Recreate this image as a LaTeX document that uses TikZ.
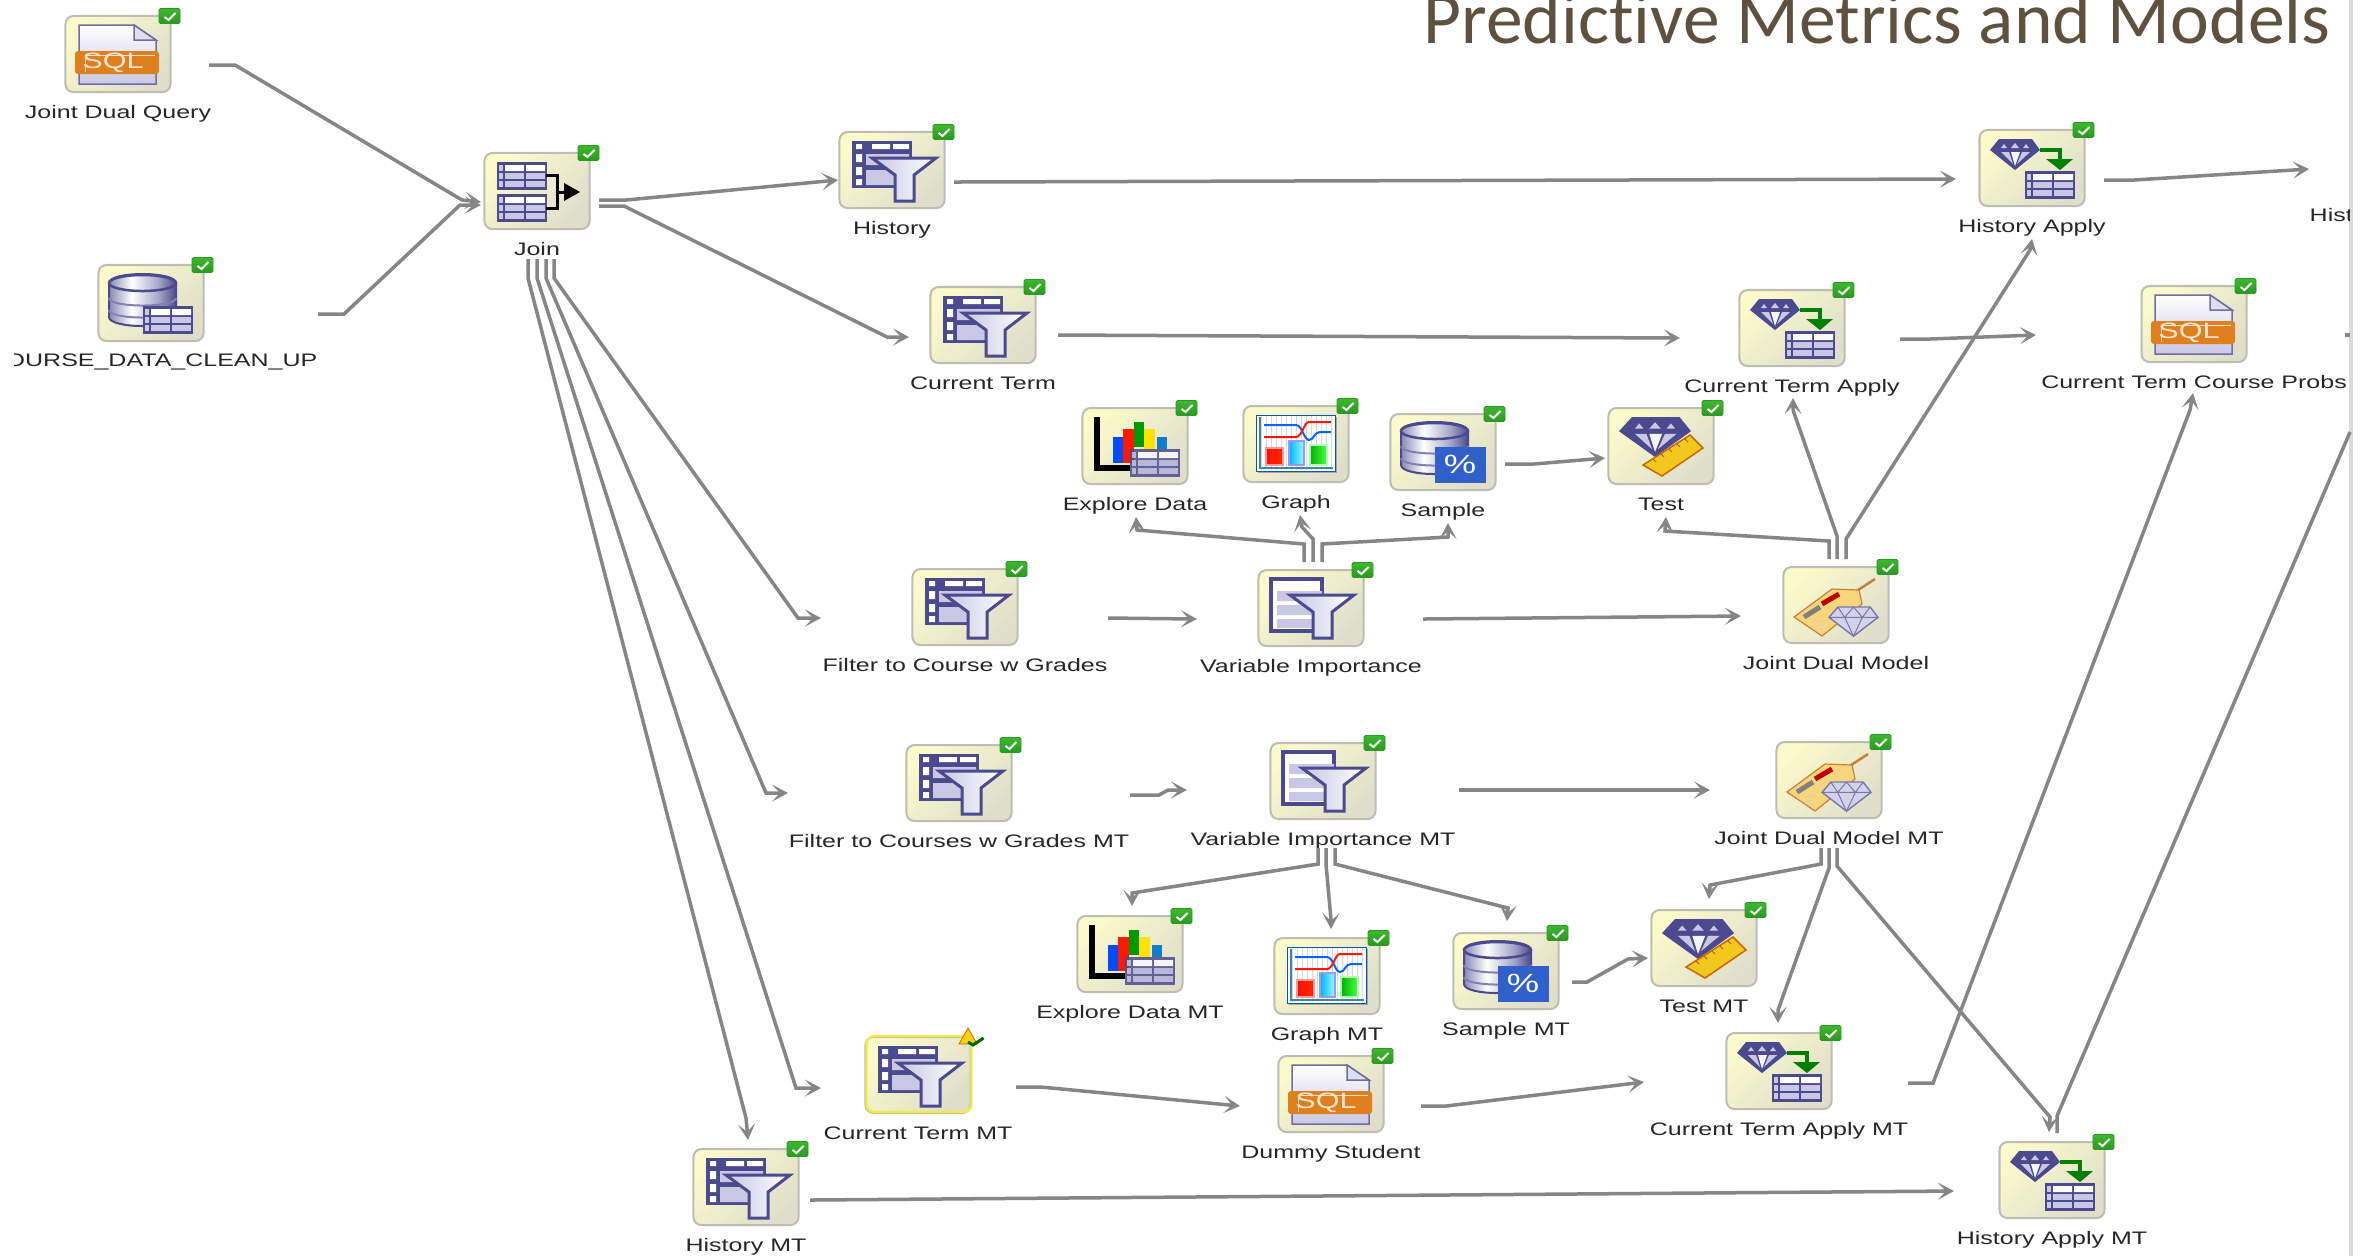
\documentclass[tikz,border=0pt]{standalone}
\usepackage{fontspec}
\usetikzlibrary{arrows.meta, positioning}
\newfontfamily\tasklabelfont[FakeStretch=1.38]{Liberation Sans}
\newfontfamily\titlefont[Ligatures=NoCommon]{Carlito}
\definecolor{linkgray}{HTML}{868686}
\definecolor{gemdark}{HTML}{4B4A8E}
\definecolor{gemcell}{HTML}{C9C7E4}
\definecolor{tilelight}{HTML}{FBFACB}
\definecolor{tiledark}{HTML}{DFDECB}
\definecolor{tileedge}{HTML}{BDBDB3}
\definecolor{titlebrown}{HTML}{5E5140}
\definecolor{sqlorange}{HTML}{E07F1E}
\definecolor{pctblue}{HTML}{2F60CC}
\definecolor{okgreen}{HTML}{3DB82E}
\definecolor{okgreendark}{HTML}{2A9A20}
\definecolor{warnedge}{HTML}{F0EE40}
\definecolor{tagyellow}{HTML}{F5D67C}
\definecolor{ruleryellow}{HTML}{F2C81E}
\pgfdeclarehorizontalshading{cylshade}{100bp}{color(0bp)=(gemdark!65); color(25bp)=(gemdark!65); color(42bp)=(white); color(62bp)=(gemdark!50); color(75bp)=(gemdark); color(100bp)=(gemdark)}
\tikzset{
    % grid table, 50 x 28 px before scaling
    datatable/.pic={
        \fill[gemdark] (0,0) rectangle (50,28);
        \foreach \rowy in {3,11,19} {
            \fill[gemcell] (2,\rowy) rectangle (6,\rowy+6);
            \fill[gemcell] (8,\rowy) rectangle (27,\rowy+6);
            \fill[gemcell] (29,\rowy) rectangle (48,\rowy+6);
        }
        \fill[white] (8,3) rectangle (27,9) (29,3) rectangle (48,9);
    },
    % cut gem, 50 x 31 px before scaling
    gemstone/.pic={
        \fill[gemdark] (0,11) -- (9,0) -- (42,0) -- (50,11) -- (25,31) -- cycle;
        \fill[gemcell] (14,5) -- (17,9) -- (11,9) -- cycle (25,4) -- (29,9) -- (21,9) -- cycle (36,5) -- (39,9) -- (33,9) -- cycle;
        \fill[gemcell] (11,13) -- (19,13) -- (23,25) -- cycle (32,13) -- (40,13) -- (27,25) -- cycle;
        \fill[white!80!gemcell] (21,13) -- (30,13) -- (25,27) -- cycle;
    },
    paleGem/.pic={
        \draw[draw=gemdark!75, fill=gemcell!80!white, line width=0.014cm] (0,11) -- (9,0) -- (42,0) -- (50,11) -- (25,31) -- cycle;
        \draw[gemdark!75, line width=0.01cm] (0,11) -- (50,11) (9,0) -- (16,11) -- (25,0) -- (34,11) -- (42,0) (16,11) -- (25,31) -- (34,11);
    },
    funnel/.pic={
        \draw[gemdark, line width=0.03cm, left color=gemcell, right color=white] (-20,-12) -- (44,-12) -- (22,5) -- (22,31) -- (3,31) -- (3,5) -- cycle;
    },
    cylinder/.pic={
        \draw[draw=gemdark, line width=0.02cm, shade, shading=cylshade] (-42,-20) -- (-42,14) .. controls (-42,26) and (25,26) .. (25,14) -- (25,-20) .. controls (25,-32) and (-42,-32) .. (-42,-20) -- cycle;
        \draw[gemdark!70, line width=0.02cm] (-42,-5) .. controls (-42,5) and (25,5) .. (25,-5) (-42,7) .. controls (-42,17) and (25,17) .. (25,7);
        \draw[draw=gemdark, line width=0.025cm, shade, shading=cylshade] (-8.5,-20) ellipse (33.5 and 8);
    },
    % task glyphs, origin at the centre of the tile
    sqlicon/.pic={
        \draw[gemdark!80, line width=0.015cm, top color=white, bottom color=gemcell] (-39,-29) -- (16,-29) -- (38,-14) -- (38,30) -- (-39,30) -- cycle;
        \draw[gemdark!80, line width=0.015cm, fill=gemcell!60!white] (16,-29) -- (16,-14) -- (38,-14) -- cycle;
        \fill[sqlorange, rounded corners=0.03cm] (-43,-3) rectangle (41,20);
        \draw[white!75!sqlorange, line width=0.008cm] (-33,18) -- (-33,1) -- (37,1);
        \node[glyphtext, text=white!80!sqlorange] (-glyph) at (-5,9) {SQL};
    },
    dbicon/.pic={
        \pic at (0,0) {cylinder};
        \pic at (-8,3) {datatable};
    },
    joinicon/.pic={
        \pic at (-40,-29) {datatable};
        \pic at (-40,3) {datatable};
        \draw[black, line width=0.03cm] (9,-16) -- (20,-16) -- (20,17) -- (9,17) (20,1) -- (27,1);
        \fill[black] (27,-8) -- (43,1) -- (27,10) -- cycle;
    },
    filtericon/.pic={
        \fill[gemdark] (-40,-29) rectangle (20,18);
        \fill[white] (-20,-26) rectangle (-2,-21) (1,-26) rectangle (17,-21);
        \fill[white] (-36,-26) rectangle (-30,-21) (-36,-16) rectangle (-30,-8) (-36,-3) rectangle (-30,5) (-36,9) rectangle (-30,15);
        \fill[gemcell] (-26,-16) rectangle (17,-5) (-26,0) rectangle (17,15);
        \pic at (0,0) {funnel};
    },
    varicon/.pic={
        \draw[gemdark, line width=0.04cm, fill=white] (-40,-29) rectangle (11,23);
        \fill[gemcell] (-34,-17) rectangle (11,-7) (-34,-3) rectangle (11,7) (-34,11) rectangle (11,20);
        \pic at (-1,-1) {funnel};
    },
    applyicon/.pic={
        \pic at (-42,-29) {gemstone};
        \draw[green!50!black, line width=0.04cm] (8,-18) -- (28,-18) -- (28,-8);
        \fill[green!50!black] (14,-9) -- (41,-9) -- (28,2) -- cycle;
        \pic at (-7,3) {datatable};
    },
    exploreicon/.pic={
        \fill[blue!70!cyan] (-22,-9) rectangle (-12,17);
        \fill[red!80!orange] (-12,-17) rectangle (-1,17);
        \fill[green!60!black] (-1,-24) rectangle (9,1);
        \fill[yellow!85!orange] (9,-17) rectangle (20,4);
        \fill[cyan!60!blue] (22,-9) rectangle (32,3);
        \draw[black, line width=0.055cm] (-38,-29) -- (-38,22) -- (-5,22);
        \pic[opacity=0.85] at (-5,3) {datatable};
    },
    graphicon/.pic={
        \fill[gray!70] (-38,-27) rectangle (41,29);
        \draw[blue!50!cyan!70!black, line width=0.01cm, fill=white] (-40,-29) rectangle (39,27);
        \draw[gray!30, line width=0.005cm, step=5] (-39,-28) grid (38,26);
        \draw[blue!60!cyan, line width=0.02cm] (-32,-19) -- (0,-19) .. controls (6,-19) and (8,-4) .. (13,-4) .. controls (18,-4) and (18,-12) .. (24,-12) -- (35,-12);
        \draw[red!80!orange, line width=0.02cm] (-32,-7) -- (0,-7) .. controls (6,-7) and (8,-22) .. (13,-22) -- (35,-22);
        \draw[white!60!red, line width=0.012cm, left color=red!85!orange, right color=red!70!orange] (-30,4) rectangle (-13,21);
        \draw[blue!40!white, line width=0.012cm, left color=blue!30!cyan, right color=cyan!40] (-7,-3) rectangle (8,21);
        \draw[green!30!white, line width=0.012cm, left color=green!70!black, right color=green!70] (14,1) rectangle (31,21);
        \draw[cyan!60!black, line width=0.012cm] (-36,-27) -- (-36,24) -- (37,24);
    },
    sampleicon/.pic={
        \pic at (0,-1) {cylinder};
        \fill[pctblue] (-8,-5) rectangle (43,31);
        \node[glyphtext, text=white, font=\tasklabelfont\fontsize{7.5}{8}\selectfont] (-glyph) at (17,12) {\%};
    },
    testicon/.pic={
        \pic[xscale=1.44,yscale=1.29] at (-42,-29) {gemstone};
        \draw[orange!80!black, line width=0.015cm, fill=ruleryellow] (-18,19) -- (29,-11) -- (42,2) -- (1,30) -- cycle;
        \draw[orange!70!black, line width=0.008cm] (-8,13) -- (-5,16) (0,8) -- (3,11) (8,3) -- (11,6) (16,-2) -- (19,1) (24,-7) -- (27,-4);
    },
    modelicon/.pic={
        \draw[brown, line width=0.025cm] (19,-13) -- (39,-26);
        \draw[brown!80!orange, line width=0.012cm, fill=tagyellow] (-42,12) -- (-4,-16) -- (23,-15) -- (26,-1) -- (-14,31) -- cycle;
        \draw[red!75!black, line width=0.05cm] (-14,-1) -- (3,-11);
        \draw[gray, line width=0.05cm] (-32,12) -- (-16,2);
        \draw[brown!40!white, line width=0.01cm] (-24,16) -- (-12,16) (-24,20) -- (-12,20) (-22,24) -- (-12,24);
        \pic[xscale=0.98,yscale=0.94] at (-7,2) {paleGem};
    },
    % status marks, origin at the north east corner of the tile
    okbadge/.pic={
        \draw[okgreendark, line width=0.008cm, rounded corners=0.015cm, top color=okgreen, bottom color=okgreendark] (-12.5,-6.5) rectangle (8.5,8.5);
        \draw[white, line width=0.02cm] (-7,2) -- (-3,5) -- (4,-2);
    },
    warnbadge/.pic={
        \draw[warnedge, line width=0.024cm, rounded corners=0.08cm] (-105,0) rectangle (0,76);
        \draw[orange!80!black, line width=0.008cm, fill=yellow!70!orange] (-12.5,8) -- (-3.5,-8) -- (5.5,8) -- cycle;
        \draw[green!40!black, line width=0.03cm] (-3.5,6) -- (1.5,9) -- (12,2);
    },
    tile/.style={draw=tileedge, line width=0.02cm, rounded corners=0.08cm, minimum width=1.05cm, minimum height=0.76cm, inner sep=0pt, top color=tilelight, bottom color=tiledark, shading angle=45},
    tasktext/.style={font=\tasklabelfont\fontsize{5.15}{6}\selectfont, text=black!85, inner sep=0pt, text height=0.13cm, text depth=0.04cm},
    glyphtext/.style={font=\tasklabelfont\fontsize{6.3}{7}\selectfont, inner sep=0pt},
    titletext/.style={font=\titlefont\fontsize{20.9}{24}\selectfont, text=titlebrown, inner sep=0pt},
    flow/.style={draw=linkgray, line width=0.035cm, -{Stealth[length=0.16cm,width=0.17cm,inset=0.08cm]}},
    flowout/.style={draw=linkgray, line width=0.035cm},
    sideline/.style={draw=black!14, line width=0.04cm}
}
\begin{document}
\begin{tikzpicture}[x=0.01cm, y=-0.01cm]
    \useasboundingbox (0,0) rectangle (2379,1256);

    % 1. title and the window edge
    \node[titletext, anchor=base east] (title) at (2331,43) {Predictive Metrics and Models};
    \draw[sideline] (2351,0) -- (2351,1256);

    % 2. task tiles: name / x / y / glyph / status / text
    \foreach \nm/\px/\py/\ico/\flag/\txt in {
        sqlq/118/54/sqlicon/okbadge/Joint Dual Query,
        join/537/191/joinicon/okbadge/Join,
        hist/892/170/filtericon/okbadge/History,
        term/983/325/filtericon/okbadge/Current Term,
        expl/1135/446/exploreicon/okbadge/Explore Data,
        grph/1296/444/graphicon/okbadge/Graph,
        samp/1443/452/sampleicon/okbadge/Sample,
        test/1661/446/testicon/okbadge/Test,
        filt/965/607/filtericon/okbadge/Filter to Course w Grades,
        vimp/1311/608/varicon/okbadge/Variable Importance,
        modl/1836/605/modelicon/okbadge/Joint Dual Model,
        happ/2032/168/applyicon/okbadge/History Apply,
        tapp/1792/328/applyicon/okbadge/Current Term Apply,
        prob/2194/324/sqlicon/okbadge/Current Term Course Probs,
        filtm/959/783/filtericon/okbadge/Filter to Courses w Grades MT,
        vimpm/1323/781/varicon/okbadge/Variable Importance MT,
        modlm/1829/780/modelicon/okbadge/Joint Dual Model MT,
        explm/1130/954/exploreicon/okbadge/Explore Data MT,
        grphm/1327/976/graphicon/okbadge/Graph MT,
        sampm/1506/971/sampleicon/okbadge/Sample MT,
        testm/1704/948/testicon/okbadge/Test MT,
        termm/918/1075/filtericon/warnbadge/Current Term MT,
        dumm/1331/1094/sqlicon/okbadge/Dummy Student,
        tappm/1779/1071/applyicon/okbadge/Current Term Apply MT,
        histm/746/1187/filtericon/okbadge/History MT,
        happm/2052/1180/applyicon/okbadge/History Apply MT%
    } {
        \node[tile] (\nm) at (\px,\py) {};
        \pic (\nm) at (\nm.center) {\ico};
        \pic (\nm-mark) at (\nm.north east) {\flag};
        \node[tasktext, below=0.12cm of \nm] (\nm-text) {\txt};
    }

    % the source table: its label runs over the left edge of the window
    \node[tile] (data) at (151,303) {};
    \pic (data) at (data.center) {dbicon};
    \pic (data-mark) at (data.north east) {okbadge};
    \begin{scope}
        \clip (14,330) rectangle (400,390);
        \node[tasktext, anchor=east] (data-text) at (318,362) {OURSE\_DATA\_CLEAN\_UP};
    \end{scope}
    \begin{scope}
        \clip (2290,190) rectangle (2349,240);
        \node[tasktext, anchor=base west] (histout-text) at (2309,221) {Hist};
    \end{scope}

    % 3. free ends of the connectors leaving the window
    \coordinate (histout) at (2309,169);
    \coordinate (appout) at (2350,432);
    \coordinate (probout) at (2345,335);
    \coordinate (probedge) at (2350,335);

    % 4. connectors of the top half
    \draw[flow] ([shift={(37.5,11)}]sqlq.east) -- ++(26,0) -- (462,200) -- ([shift={(-2.5,11)}]join.west);
    \draw[flow] ([shift={(113.5,11)}]data.east) -- ++(26,0) -- (460,205) -- ([shift={(-2.5,14)}]join.west);
    \draw[flow] ([shift={(8.5,9)}]join.east) -- ++(27,0) -- ([shift={(-0.5,10)}]hist.west);
    \draw[flow] ([shift={(8.5,15)}]join.east) -- ++(25,0) -- (887,337) -- ([shift={(-20.5,12)}]term.west);
    \draw[flow] ([shift={(17,29)}]join.south) -- ++(0,19) -- (798,618) -- ([shift={(-90.5,11)}]filt.west);
    \draw[flow] ([shift={(9,29)}]join.south) -- ++(0,19) -- (766,793) -- ([shift={(-117.5,10)}]filtm.west);
    \draw[flow] ([shift={(0,29)}]join.south) -- ++(0,19) -- (796,1088) -- ([shift={(-43.5,13)}]termm.west);
    \draw[flow] ([shift={(-9,29)}]join.south) -- ++(0,19) -- (746,1118) -- ([shift={(2,-8)}]histm.north);
    \draw[flow] ([shift={(8.5,12)}]hist.east) -- ([shift={(-22.5,11)}]happ.west);
    \draw[flow] ([shift={(21.5,10)}]term.east) -- ([shift={(-58.5,10)}]tapp.west);
    \draw[flow] ([shift={(54.5,11)}]tapp.east) -- ++(30,0) -- ([shift={(-104.5,11)}]prob.west);
    \draw[flow] ([shift={(18.5,12)}]happ.east) -- ++(30,0) -- (histout);
    \draw[flowout] (probout) -- (probedge);
    \draw[flow] ([shift={(89.5,11)}]filt.east) -- ([shift={(-60.5,11)}]vimp.west);
    \draw[flow] ([shift={(58.5,11)}]vimp.east) -- ([shift={(-41.5,11)}]modl.west);
    \draw[flow] ([shift={(-7,-7)}]vimp.north) -- ++(0,-18) -- (1137,530) -- ([shift={(1,32)}]expl.south);
    \draw[flow] ([shift={(2,-7)}]vimp.north) -- ++(0,-23) -- (1302,527) -- ([shift={(4,32)}]grph.south);
    \draw[flow] ([shift={(11,-7)}]vimp.north) -- ++(0,-18) -- (1448,537) -- ([shift={(5,32)}]samp.south);
    \draw[flow] ([shift={(8.5,12)}]samp.east) -- ++(29,0) -- ([shift={(-2.5,12)}]test.west);
    \draw[flow] ([shift={(-7,-7)}]modl.north) -- ++(0,-18) -- (1665,531) -- ([shift={(5,32)}]test.south);
    \draw[flow] ([shift={(1,-7)}]modl.north) -- ++(0,-23) -- (1793,410) -- ([shift={(1,31)}]tapp.south);
    \draw[flow] ([shift={(10,-7)}]modl.north) -- ++(0,-20) -- (2030,250) -- ([shift={(0,32)}]happ.south);

    % 5. connectors of the MT half
    \draw[flow] ([shift={(117.5,12)}]filtm.east) -- ++(29,0) -- (1168,790) -- ([shift={(-82.5,9)}]vimpm.west);
    \draw[flow] ([shift={(82.5,9)}]vimpm.east) -- ([shift={(-65.5,10)}]modlm.west);
    \draw[flow] ([shift={(-5,28)}]vimpm.south) -- ++(0,16) -- (1132,893) -- ([shift={(2,-9)}]explm.north);
    \draw[flow] ([shift={(3,28)}]vimpm.south) -- ++(0,16) -- (1331,920) -- ([shift={(4,-8)}]grphm.north);
    \draw[flow] ([shift={(12,28)}]vimpm.south) -- ++(0,16) -- (1508,908) -- ([shift={(1,-11)}]sampm.north);
    \draw[flow] ([shift={(12.5,11)}]sampm.east) -- ++(15,0) -- (1628,959) -- ([shift={(-2.5,10)}]testm.west);
    \draw[flow] ([shift={(-8,29)}]modlm.south) -- ++(0,16) -- (1710,885) -- ([shift={(5,-10)}]testm.north);
    \draw[flow] ([shift={(0,29)}]modlm.south) -- ++(0,20) -- (1778,1010) -- ([shift={(-1,-9)}]tappm.north);
    \draw[flow] ([shift={(8,29)}]modlm.south) -- ++(0,18) -- (2050,1117) -- ([shift={(-3,-9)}]happm.north);
    \draw[flow] ([shift={(75.5,12)}]tappm.east) -- ++(25,0) -- (2190,410) -- ([shift={(-1,30)}]prob.south);
    \draw[flowout] ([shift={(5,-8)}]happm.north) -- ++(0,-17) -- (appout);
    \draw[flow] ([shift={(44.5,12)}]termm.east) -- ++(25,0) -- ([shift={(-37.5,12)}]dumm.west);
    \draw[flow] ([shift={(36.5,12)}]dumm.east) -- ++(25,0) -- ([shift={(-81.5,11)}]tappm.west);
    \draw[flow] ([shift={(10.5,13)}]histm.east) -- ([shift={(-44.5,11)}]happm.west);
\end{tikzpicture}
\end{document}
